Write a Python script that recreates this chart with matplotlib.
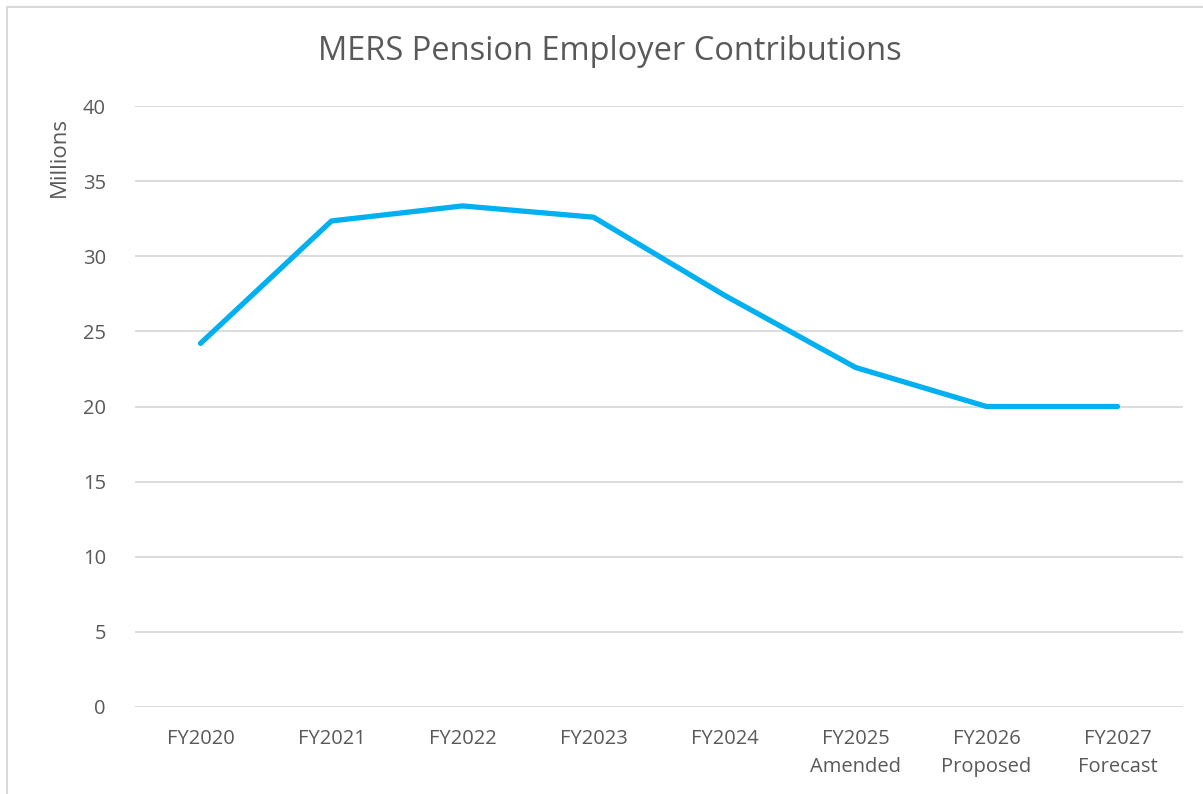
import matplotlib
matplotlib.use("Agg")
import matplotlib.pyplot as plt
from matplotlib.patches import Rectangle

# data (millions)
categories = ["FY2020", "FY2021", "FY2022", "FY2023", "FY2024",
              "FY2025\nAmended", "FY2026\nProposed", "FY2027\nForecast"]
contributions = [24.2, 32.35, 33.35, 32.6, 27.4, 22.6, 20.0, 20.0]
yticks = [0, 5, 10, 15, 20, 25, 30, 35, 40]

txt = "#595959"
plt.rcParams['font.family'] = ['Open Sans', 'DejaVu Sans']

fig = plt.figure(figsize=(12.03, 7.94), dpi=100)
W, H = 1203, 794
ax = fig.add_axes([135 / W, 1 - 707 / H, (1183 - 135) / W, (707 - 106) / H])

# outer chart border (cut at right/bottom like the screenshot)
fig.patches.append(Rectangle((7 / W, -0.05), 1.1, 1 - 7 / H + 0.05, transform=fig.transFigure,
                             fill=False, edgecolor="#d9d9d9", lw=1.5))

x = list(range(len(categories)))
ax.plot(x, contributions, color="#00B0F0", lw=3.8, solid_capstyle="round",
        solid_joinstyle="round", zorder=3)

ax.set_xlim(-0.5, len(categories) - 0.5)
ax.set_ylim(0, 40)
ax.set_yticks(yticks)
ax.set_xticks(x)
ax.set_xticklabels(categories, fontsize=14.5, color=txt, linespacing=1.5)
ax.tick_params(axis="y", labelsize=14.5, labelcolor=txt, length=0, pad=21)
ax.tick_params(axis="x", length=0, pad=16)
ax.grid(axis="y", color="#d9d9d9", lw=1.3)
ax.set_axisbelow(True)
for s in ax.spines.values():
    s.set_visible(False)

ax.set_ylabel("Millions", fontsize=16, color=txt)
ax.yaxis.set_label_coords(-0.062, 0.915)
fig.text(610 / W, 1 - 52 / H, "MERS Pension Employer Contributions", ha="center", va="center",
         fontsize=23.5, color=txt)

fig.savefig("out.png", dpi=100)
